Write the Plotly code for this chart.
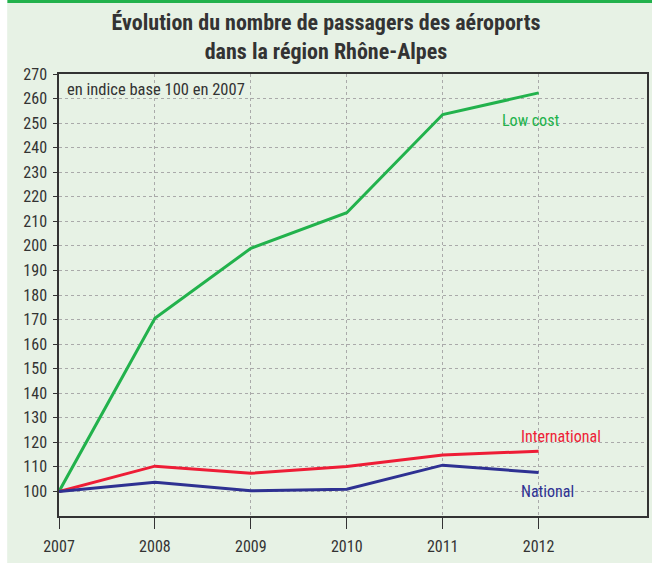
import plotly.graph_objects as go

years = [2007, 2008, 2009, 2010, 2011, 2012]
low_cost = [100, 170.5, 199, 213.5, 253.5, 262.3]
international = [100, 110.3, 107.4, 110.2, 114.8, 116.4]
national = [100, 103.7, 100.3, 100.9, 110.7, 107.7]
y_ticks = list(range(100, 271, 10))

BG = "#E7F2E5"
FONT = "Liberation Sans Narrow, Roboto Condensed, Arial Narrow, Liberation Sans, sans-serif"
TXT = "#333333"

fig = go.Figure()
series = [
    ("Low cost", low_cost, "#22B24C"),
    ("International", international, "#EE1D36"),
    ("National", national, "#2E3192"),
]
for name, vals, col in series:
    fig.add_trace(go.Scatter(x=years, y=vals, mode="lines", name=name,
                             line=dict(color=col, width=3), showlegend=False))

annots = [
    dict(x=2011.6, y=251, text="Low cost", color="#22B24C"),
    dict(x=2011.8, y=122.5, text="International", color="#EE1D36"),
    dict(x=2011.8, y=100, text="National", color="#2E3192"),
]
for a in annots:
    fig.add_annotation(x=a["x"], y=a["y"], xref="x", yref="y", text=a["text"],
                       showarrow=False, xanchor="left", yanchor="middle",
                       font=dict(family=FONT, size=16, color=a["color"]))

fig.add_annotation(x=2007.06, y=263.8, xref="x", yref="y", text="en indice base 100 en 2007",
                   showarrow=False, xanchor="left", yanchor="middle",
                   font=dict(family=FONT, size=16.5, color=TXT))

# page background edges
fig.add_shape(type="rect", xref="paper", yref="paper", x0=-0.11, x1=-0.0881, y0=-0.12, y1=1.18,
              fillcolor="white", line_width=0, layer="below")
fig.add_shape(type="rect", xref="paper", yref="paper", x0=-0.11, x1=1.02, y0=-0.12, y1=-0.1063,
              fillcolor="white", line_width=0, layer="below")
fig.add_shape(type="rect", xref="paper", yref="paper", x0=-0.0881, x1=1.02, y0=1.1606, y1=1.18,
              fillcolor="#22B24C", line_width=0, layer="below")
fig.add_shape(type="rect", xref="paper", yref="paper", x0=-0.11, x1=-0.0881, y0=1.1606, y1=1.18,
              fillcolor="white", line_width=0, layer="below")

fig.update_layout(
    width=652, height=564,
    margin=dict(l=59, r=3, t=74, b=48),
    paper_bgcolor=BG, plot_bgcolor=BG,
    title=dict(text="<b>Évolution du nombre de passagers des aéroports<br>dans la région Rhône-Alpes</b>",
               x=326 / 652, xref="container", xanchor="center",
               y=1 - 30 / 564, yref="container", yanchor="middle",
               font=dict(family=FONT, size=22, color=TXT)),
    font=dict(family=FONT, size=16, color=TXT),
)
fig.update_xaxes(range=[2007, 2013.13], tickvals=years, ticktext=[str(y) for y in years],
                 showline=True, linecolor="#333", linewidth=1.5, mirror=True,
                 ticks="outside", ticklen=11, tickcolor="#333", ticklabelstandoff=4,
                 showgrid=True, gridcolor="#aaaaaa", griddash="dot", gridwidth=1,
                 zeroline=False, tickfont=dict(family=FONT, size=16, color=TXT))
fig.update_yaxes(range=[90, 270], tickvals=y_ticks,
                 showline=True, linecolor="#333", linewidth=1.5, mirror=True,
                 ticks="outside", ticklen=4, tickcolor="#333", ticklabelstandoff=3,
                 showgrid=True, gridcolor="#aaaaaa", griddash="dot", gridwidth=1,
                 zeroline=False, tickfont=dict(family=FONT, size=16, color=TXT))

fig.write_html("out.html", config={"displayModeBar": False},
               post_script="document.body.style.margin='0';")
